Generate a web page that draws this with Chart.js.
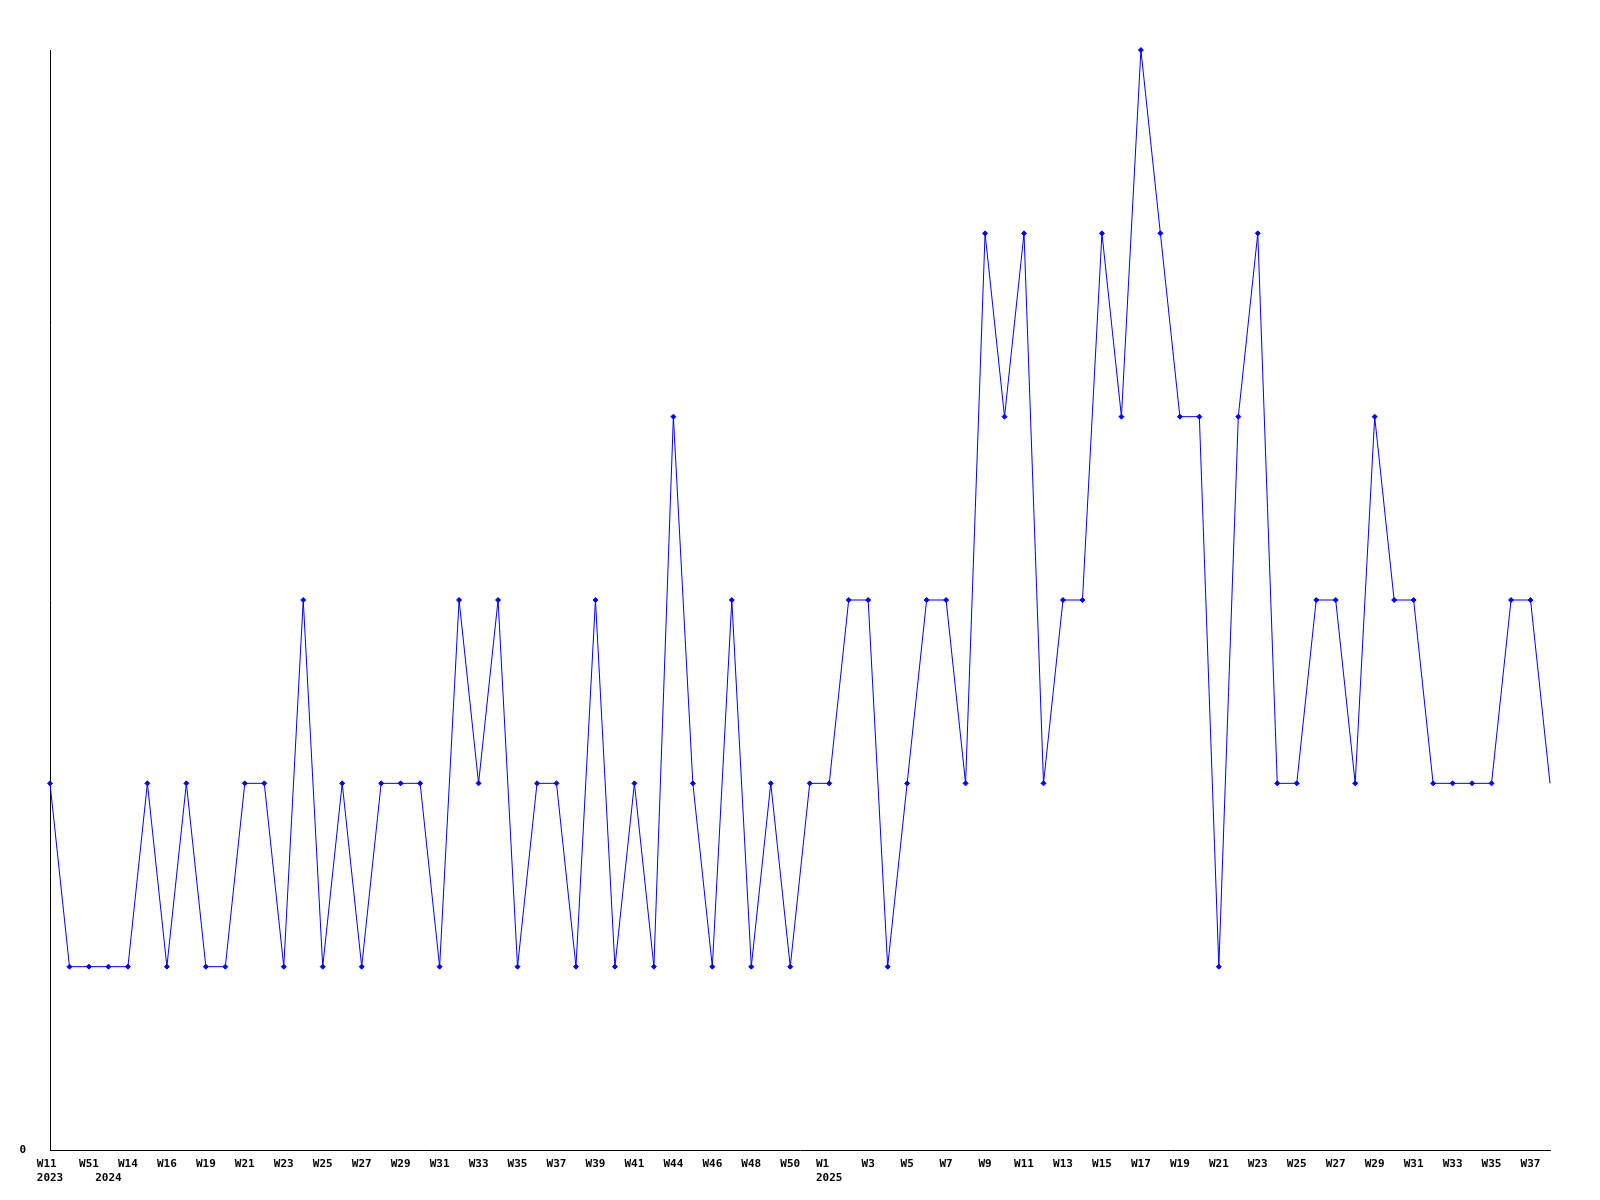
<!DOCTYPE html>
<html>
<head>
<meta charset="utf-8">
<script src="https://cdn.jsdelivr.net/npm/chart.js@4.4.1/dist/chart.umd.min.js"></script>
<style>
  html, body { margin: 0; padding: 0; background: #fff; }
  #wrap { width: 1600px; height: 1200px; }
</style>
</head>
<body>
<div id="wrap"><canvas id="chart" width="1600" height="1200"></canvas></div>
<script>
// --- DATA ---
// week of each point (every other one gets printed on the axis)
const weeks = [
  'W11', 'W12', 'W51', 'W13', 'W14', 'W15', 'W16', 'W17', 'W19', 'W20',
  'W21', 'W22', 'W23', 'W24', 'W25', 'W26', 'W27', 'W28', 'W29', 'W30',
  'W31', 'W32', 'W33', 'W34', 'W35', 'W36', 'W37', 'W38', 'W39', 'W40',
  'W41', 'W42', 'W44', 'W45', 'W46', 'W47', 'W48', 'W49', 'W50', 'W51',
  'W1', 'W2', 'W3', 'W4', 'W5', 'W6', 'W7', 'W8', 'W9', 'W10',
  'W11', 'W12', 'W13', 'W14', 'W15', 'W16', 'W17', 'W18', 'W19', 'W20',
  'W21', 'W22', 'W23', 'W24', 'W25', 'W26', 'W27', 'W28', 'W29', 'W30',
  'W31', 'W32', 'W33', 'W34', 'W35', 'W36', 'W37', 'W38'
];
// year marker printed under the first point of each year
const yearStarts = { 0: '2023', 3: '2024', 40: '2025' };

const counts = [
  2, 1, 1, 1, 1, 2, 1, 2, 1, 1,
  2, 2, 1, 3, 1, 2, 1, 2, 2, 2,
  1, 3, 2, 3, 1, 2, 2, 1, 3, 1,
  2, 1, 4, 2, 1, 3, 1, 2, 1, 2,
  2, 3, 3, 1, 2, 3, 3, 2, 5, 4,
  5, 2, 3, 3, 5, 4, 6, 5, 4, 4,
  1, 4, 5, 2, 2, 3, 3, 2, 4, 3,
  3, 2, 2, 2, 2, 3, 3, 2
];

const yMin = 0;
const yMax = 6;

const FONT = { family: "'DejaVu Sans Mono', monospace", size: 11, weight: 'bold' };
const BLUE = '#0000ff';

function weekTick(value, index) {
  const wk = index % 2 === 0 ? weeks[index] : '';
  const yr = yearStarts[index];
  if (yr) {
    // pad so both lines start at the same x (monospace font)
    return [wk.padEnd(yr.length, ' '), yr];
  }
  return wk;
}

new Chart(document.getElementById('chart'), {
  type: 'line',
  data: {
    labels: weeks,
    datasets: [{
      data: counts,
      borderColor: BLUE,
      borderWidth: 1,
      tension: 0,
      fill: false,
      clip: false,
      pointStyle: 'rectRot',
      pointRadius: (ctx) => ctx.dataIndex === counts.length - 1 ? 0 : 2.5,
      pointBackgroundColor: BLUE,
      pointBorderColor: BLUE,
      pointBorderWidth: 1
    }]
  },
  options: {
    responsive: false,
    animation: false,
    layout: { padding: { top: 50, right: 50, left: 0, bottom: 0 } },
    plugins: {
      legend: { display: false },
      tooltip: { enabled: false }
    },
    scales: {
      x: {
        offset: false,
        grid: { display: false, drawTicks: false },
        border: { display: true, color: '#000', width: 1 },
        ticks: {
          autoSkip: false,
          maxRotation: 0,
          minRotation: 0,
          padding: 8,
          color: '#000',
          font: FONT,
          callback: weekTick
        },
        afterFit: (scale) => { scale.height = 50; }
      },
      y: {
        min: yMin,
        max: yMax,
        grid: { display: false, drawTicks: false },
        border: { display: true, color: '#000', width: 1 },
        ticks: {
          stepSize: 1,
          padding: 24,
          color: '#000',
          font: FONT,
          callback: (v) => v === 0 ? '0' : ''
        },
        afterFit: (scale) => { scale.width = 50; }
      }
    }
  }
});
</script>
</body>
</html>
